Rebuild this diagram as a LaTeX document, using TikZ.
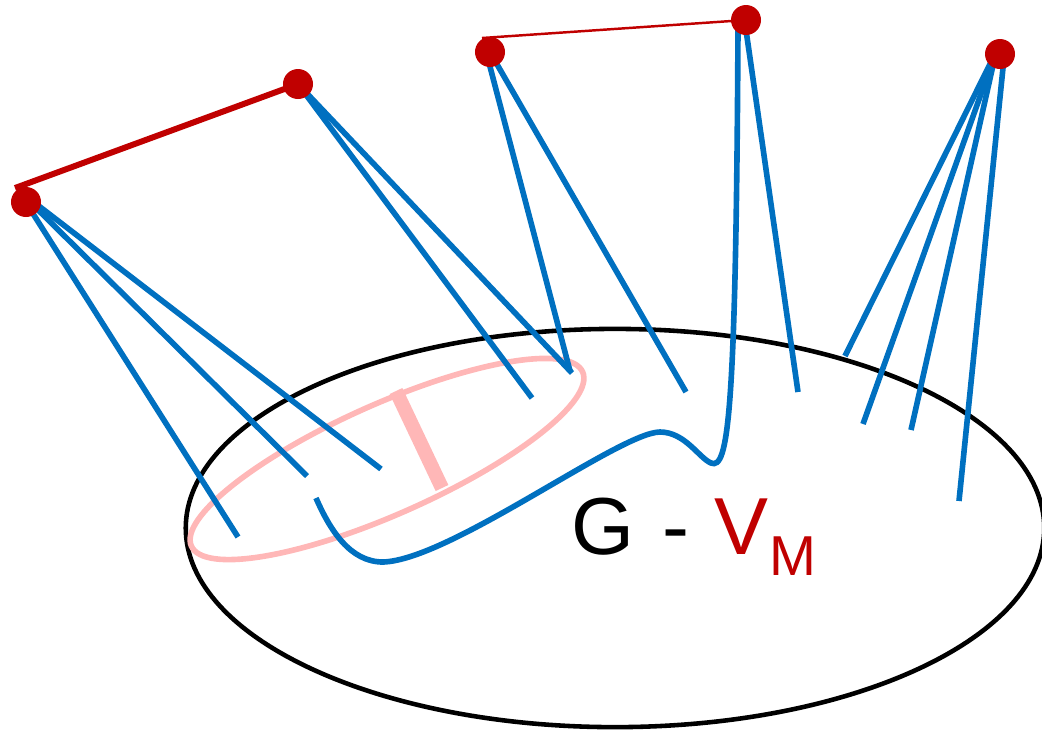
\documentclass[tikz,border=0pt]{standalone}
\usepackage{fontspec}
\setmainfont{Liberation Sans}
\definecolor{eblue}{HTML}{0070C0}
\definecolor{vred}{HTML}{C00000}
\definecolor{spink}{HTML}{FFB7B7}
\begin{document}
\begin{tikzpicture}[x=0.01cm,y=-0.01cm,
  edge/.style={draw=eblue,line width=1.6pt},
  vdot/.style={circle,fill=vred,inner sep=0pt,minimum size=0.3cm},
  setline/.style={draw=black,line width=1.3pt},
  sepline/.style={draw=spink,line width=1.6pt},
  sepbar/.style={draw=spink,line width=4pt},
  lbl/.style={inner sep=0pt,anchor=base west,font=\fontsize{23pt}{26pt}\selectfont},
  sublbl/.style={inner sep=0pt,anchor=base west,text=vred,font=\fontsize{16pt}{18pt}\selectfont}]
\clip (0,0) rectangle (1042,735);
% vertices and connector ends
\coordinate (a) at (26,202);
\coordinate (b) at (298,84);
\coordinate (c) at (490,52);
\coordinate (d) at (746,20);
\coordinate (e) at (1000,54);
\coordinate (ao) at (18,190);
\coordinate (co) at (483,40);
\coordinate (do) at (738,28);
\coordinate (dr) at (746,30);
\coordinate (eo) at (996,52);
\coordinate (er) at (1004,58);
\coordinate (a1) at (238,537);
\coordinate (a2) at (307,476);
\coordinate (a3) at (381,469);
\coordinate (b1) at (532,398);
\coordinate (b2) at (572,373);
\coordinate (c1) at (570,371);
\coordinate (c2) at (686,392);
\coordinate (d1) at (798,392);
\coordinate (dend) at (316,498);
\coordinate (e1) at (845,356);
\coordinate (e2) at (863,424);
\coordinate (e3) at (911,430);
\coordinate (e4) at (959,501);
\coordinate (rab) at (15,188);
\coordinate (rcd) at (482,38);
\coordinate (bar1) at (396,391);
\coordinate (bar2) at (442,488);
\coordinate (gc) at (615,528);
\coordinate (pc) at (387,459);
% region G - V_M
\draw[setline] (gc) ellipse [x radius=4.29cm, y radius=1.99cm];
% separator
\draw[sepline, rotate around={24:(pc)}] (pc) ellipse [x radius=2.14cm, y radius=0.55cm];
\draw[sepbar] (bar1) -- (bar2);
% edges
\draw[edge] (ao) -- (a1);
\draw[edge] (ao) -- (a2);
\draw[edge] (ao) -- (a3);
\draw[edge] (b) -- (b1);
\draw[edge] (b) -- (b2);
\draw[edge] (co) -- (c1);
\draw[edge] (co) -- (c2);
\draw[edge] (dr) -- (d1);
\draw[edge] (do) .. controls (736,420) and (728,470) .. (711,463)
  .. controls (699,458) and (685,432) .. (660,432)
  .. controls (620,432) and (450,560) .. (383,562)
  .. controls (350,562) and (330,530) .. (dend);
\draw[edge] (eo) -- (e1);
\draw[edge] (eo) -- (e2);
\draw[edge] (eo) -- (e3);
\draw[edge] (er) -- (e4);
% matching edges
\draw[draw=vred,line width=1.7pt] (rab) -- (b);
\draw[draw=vred,line width=0.7pt] (rcd) -- (d);
% vertices
\node[vdot] (na) at (a) {};
\node[vdot] (nb) at (b) {};
\node[vdot] (nc) at (c) {};
\node[vdot] (nd) at (d) {};
\node[vdot] (ne) at (e) {};
% label
\node[lbl] (lg) at (571,554) {G};
\node[lbl] (lh) at (662,554) {-};
\node[lbl,text=vred] (lv) at (714,554) {V};
\node[sublbl] (lm) at (769,575) {M};
\end{tikzpicture}
\end{document}
